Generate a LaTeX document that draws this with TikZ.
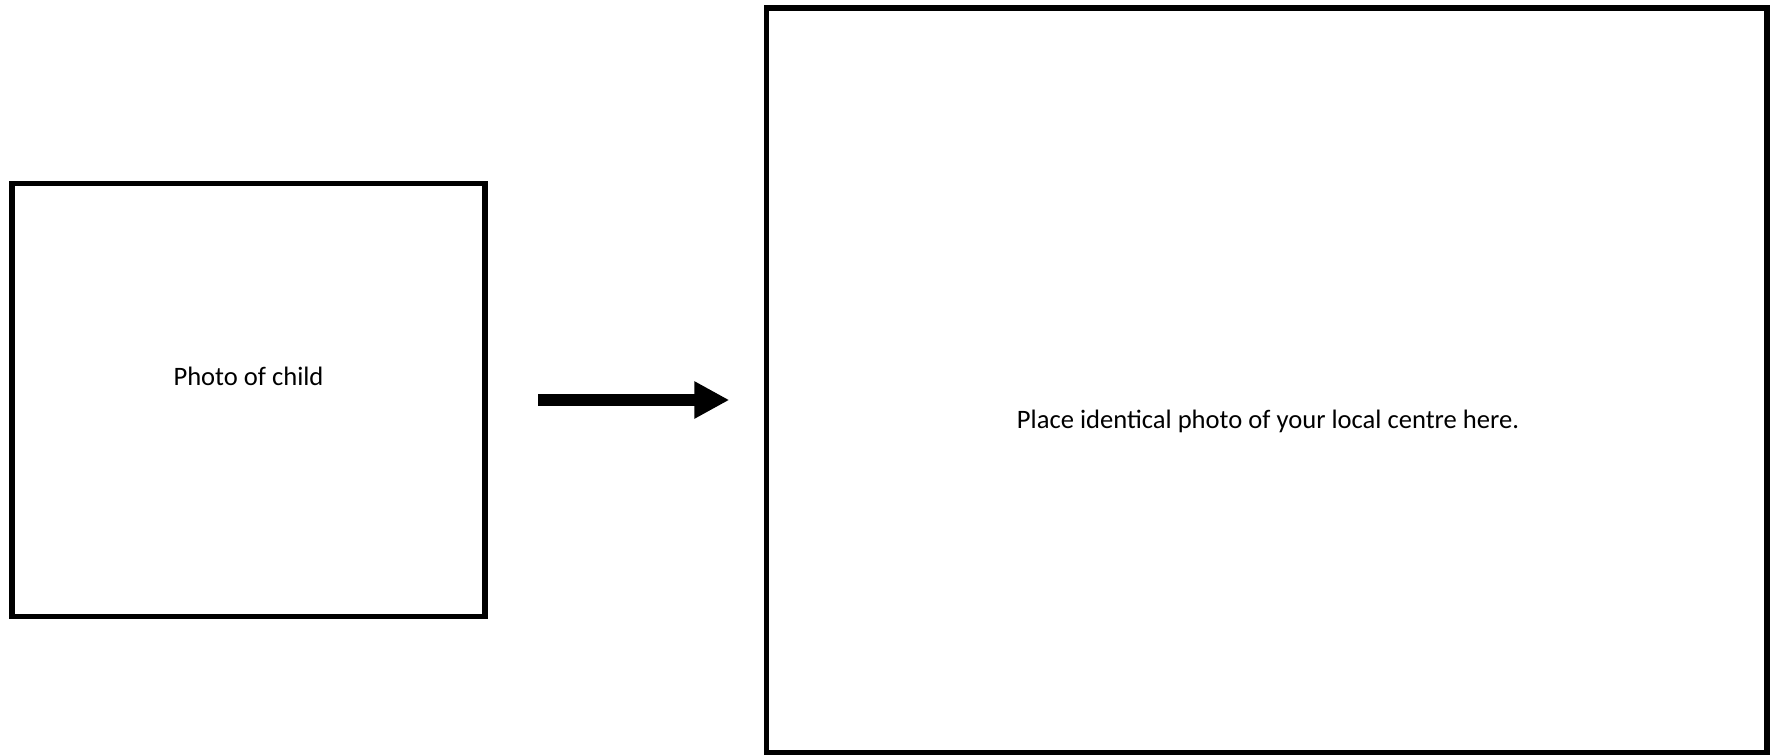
\documentclass[tikz,border=0pt]{standalone}
\usepackage{fontspec}
\setmainfont{Carlito}
\usetikzlibrary{arrows.meta}
\begin{document}
\begin{tikzpicture}[x=1pt,y=-1pt,
  frame/.style={draw=black,line width=5.5pt,inner sep=0pt},
  lbl/.style={font=\fontsize{26.6}{30}\selectfont,anchor=base,inner sep=0pt},
  bigarrow/.style={line width=12pt,-{Triangle[length=35pt,width=35pt]}}]
\useasboundingbox (0,0) rectangle (1770,755);
\node[frame,minimum width=473pt,minimum height=433pt] (child) at (248.5,400) {};
\node[frame,minimum width=1000.5pt,minimum height=745pt] (centre) at (1266.75,380.5) {};
\node[lbl] (childtxt) at (248.5,385) {Photo of child};
\node[lbl] (centretxt) at (1268,428.5) {Place identical photo of your local centre here.};
\coordinate (astart) at (538.3,400);
\coordinate (aend) at (729.3,400);
\draw[bigarrow] (astart) -- (aend);
\end{tikzpicture}
\end{document}
